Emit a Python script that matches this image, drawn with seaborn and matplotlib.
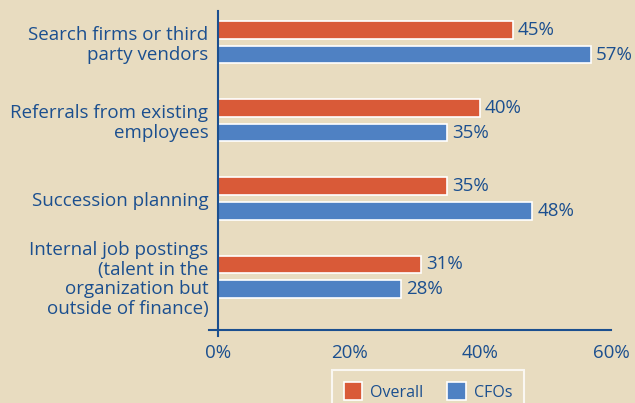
import matplotlib
matplotlib.use("Agg")
import matplotlib.pyplot as plt
import seaborn as sns
import pandas as pd
from matplotlib.patches import Patch

categories = ["Search firms or third\nparty vendors",
              "Referrals from existing\nemployees",
              "Succession planning",
              "Internal job postings\n(talent in the\norganization but\noutside of finance)"]
series_names = ["Overall", "CFOs"]
overall = [45, 40, 35, 31]
cfos = [57, 35, 48, 28]
xticks = [0, 20, 40, 60]
xtick_labels = ["0%", "20%", "40%", "60%"]

BG = "#E8DCC0"
RED = "#D95A38"
BLUE = "#4F81C3"
TXT = "#1B4F8F"

df = pd.DataFrame({
    "category": categories * 2,
    "series": [series_names[0]] * len(categories) + [series_names[1]] * len(categories),
    "value": overall + cfos,
})

sns.set_theme(style="white")
plt.rcParams["font.family"] = ["Open Sans", "DejaVu Sans"]

fig = plt.figure(figsize=(6.35, 4.03), dpi=100, facecolor=BG)
ax = fig.add_axes([209/635, 1-336/403, (611-209)/635, (336-11)/403])
ax.set_facecolor(BG)

sns.barplot(data=df, y="category", x="value", hue="series", order=categories,
            hue_order=series_names, palette=[RED, BLUE], orient="h",
            width=0.628, gap=0.28, edgecolor="white", linewidth=1.2,
            legend=False, ax=ax, saturation=1)

for cont in ax.containers:
    ax.bar_label(cont, labels=[f"{v:.0f}%" for v in cont.datavalues],
                 padding=3.5, color=TXT, fontsize=13.5)

ax.set_xlim(-1.4, 60)
ax.set_ylim(3.76, -0.4)
ax.set_xlabel("")
ax.set_ylabel("")

for s in ["top", "right"]:
    ax.spines[s].set_visible(False)
ax.spines["left"].set_position(("data", 0))
ax.spines["bottom"].set_position(("data", 3.68))
for s in ["left", "bottom"]:
    ax.spines[s].set_color(TXT)
    ax.spines[s].set_linewidth(1.5)

ax.set_xticks(xticks)
ax.set_xticklabels(xtick_labels)
ax.tick_params(axis="x", direction="in", length=4, width=1.5, color=TXT,
               labelcolor=TXT, labelsize=13.5, pad=10)
ax.tick_params(axis="y", length=0, labelcolor=TXT, labelsize=13.5, pad=7)
ax.set_yticks([-0.4, 0.5, 1.5, 2.5], minor=True)
ax.tick_params(axis="y", which="minor", direction="out", length=5, width=1.5, color=TXT)
for lab in ax.get_yticklabels():
    lab.set_linespacing(1.12)

handles = [Patch(facecolor=RED, edgecolor="white", linewidth=1.2, label=series_names[0]),
           Patch(facecolor=BLUE, edgecolor="white", linewidth=1.2, label=series_names[1])]
leg = fig.legend(handles=handles, loc="upper center", bbox_to_anchor=(428/635, 1-370/403),
                 ncol=2, frameon=True, fontsize=11.5, handlelength=1.15, handleheight=1.4,
                 columnspacing=1.5, handletextpad=0.5, borderpad=0.75, borderaxespad=0,
                 fancybox=False)
leg.get_frame().set_facecolor(BG)
leg.get_frame().set_edgecolor("white")
leg.get_frame().set_linewidth(1.5)
for t in leg.get_texts():
    t.set_color(TXT)

fig.savefig("out.png", dpi=100, facecolor=BG)
